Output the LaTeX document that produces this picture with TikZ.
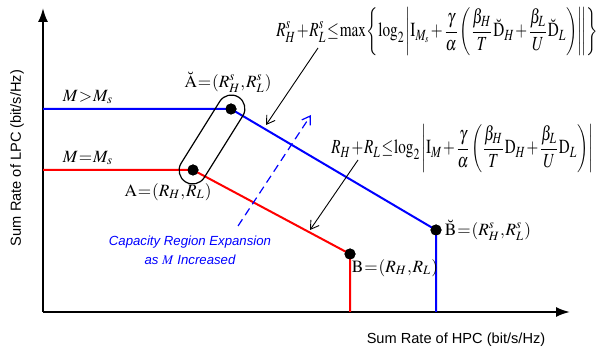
\documentclass[tikz,border=0pt]{standalone}
\usepackage{mathptmx}
\usepackage{graphicx}
\usepackage{fontspec}
\setmainfont{Liberation Serif}
\setsansfont{Liberation Sans}
\usetikzlibrary{arrows.meta}
\newcommand{\tightmath}{\thickmuskip=1mu plus 1mu\medmuskip=1mu\thinmuskip=1mu}
\begin{document}
\begin{tikzpicture}[x=0.5pt,y=-0.5pt,
  axis/.style={line width=1pt,-{Latex[length=7pt,width=5pt]}},
  blueline/.style={blue,line width=1pt},
  redline/.style={red,line width=1pt},
  dot/.style={circle,fill=black,inner sep=0pt,minimum size=5.5pt},
  pointer/.style={line width=0.45pt,-{Straight Barb[length=4pt,width=5pt]}},
  expand/.style={blue,line width=0.6pt,dash pattern=on 4pt off 2.5pt,-{Straight Barb[length=4pt,width=5pt]}},
  lbl/.style={inner sep=0pt,font=\fontsize{8.6pt}{10pt}\selectfont\tightmath},
  axlbl/.style={inner sep=0pt,font=\sffamily\fontsize{7.3pt}{9pt}\selectfont},
  note/.style={inner sep=0pt,align=center,text=blue,font=\sffamily\itshape\fontsize{6.6pt}{9.5pt}\selectfont},
  formula/.style={inner sep=0pt,anchor=west,font=\fontsize{9pt}{10pt}\selectfont\tightmath}]
\useasboundingbox (0,0) rectangle (600,347);
% axes
\coordinate (O) at (43,312);
\coordinate (Ytip) at (43,8);
\coordinate (Xtip) at (570,312);
\draw[axis] (O) -- (Ytip);
\draw[axis] (O) -- (Xtip);
% points
\coordinate (yb) at (43,109);
\coordinate (yr) at (43,170);
\coordinate (xr) at (350,312);
\coordinate (xb) at (436,312);
\node[dot] (Ab) at (231,109) {};
\node[dot] (Bb) at (436,230) {};
\node[dot] (A) at (193,170) {};
\node[dot] (B) at (350,254) {};
\draw[blueline] (yb) -- (Ab.center) -- (Bb.center) -- (xb);
\draw[redline] (yr) -- (A.center) -- (B.center) -- (xr);
\node[dot] at (Ab) {};
\node[dot] at (Bb) {};
\node[dot] at (A) {};
\node[dot] at (B) {};
% oval
\node[draw,line width=0.6pt,rounded corners=6.8pt,minimum width=50pt,minimum height=13.6pt,inner sep=0pt,rotate=58] (oval) at (212,139.5) {};
% expansion arrow
\coordinate (e1) at (238,226);
\coordinate (e2) at (311,115);
\draw[expand] (e1) -- (e2);
% pointers
\coordinate (p1s) at (318,48);
\coordinate (p1e) at (266,125);
\coordinate (p2s) at (358,160);
\coordinate (p2e) at (310,230);
\draw[pointer] (p1s) -- (p1e);
\draw[pointer] (p2s) -- (p2e);
% labels
\node[lbl] (lgt) at (88,97) {$M > M_s$};
\node[lbl] (leq) at (88,158) {$M = M_s$};
\node[lbl] (lAb) at (228,82) {$\breve{\mathrm{A}}=\left(R_H^s,R_L^s\right)$};
\node[lbl] (lA) at (168,192) {$\mathrm{A}=\left(R_H,R_L\right)$};
\node[lbl] (lBb) at (488,230) {$\breve{\mathrm{B}}=\left(R_H^s,R_L^s\right)$};
\node[lbl] (lB) at (395,268) {$\mathrm{B}=\left(R_H,R_L\right)$};
\node[note] (cap) at (190,250) {Capacity Region Expansion\\as $M$ Increased};
\node[formula] (f1) at (276,32) {\resizebox*{161pt}{24pt}{$\displaystyle R_H^s+R_L^s\le\max\left\{\log_2\left|\mathrm{I}_{M_s}+\frac{\gamma}{\alpha}\left(\frac{\beta_H}{T}\breve{\mathrm{D}}_H+\frac{\beta_L}{U}\breve{\mathrm{D}}_L\right)\right|\!\middle|\right\}$}};
\node[formula] (f2) at (331,149) {\resizebox*{131pt}{24pt}{$\displaystyle R_H+R_L\le\log_2\left|\mathrm{I}_{M}+\frac{\gamma}{\alpha}\left(\frac{\beta_H}{T}\mathrm{D}_H+\frac{\beta_L}{U}\mathrm{D}_L\right)\right|$}};
\node[axlbl] (xl) at (456,340) {Sum Rate of HPC (bit/s/Hz)};
\node[axlbl,rotate=90] (yl) at (17,158) {Sum Rate of LPC (bit/s/Hz)};
\end{tikzpicture}
\end{document}
